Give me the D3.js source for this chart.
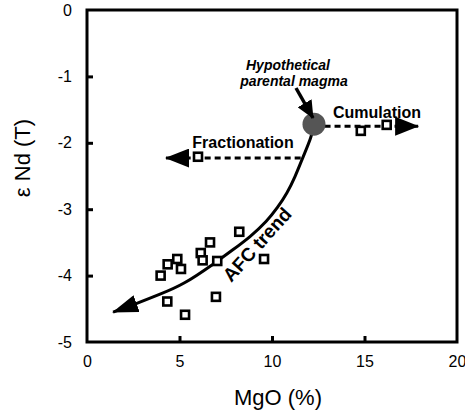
<!DOCTYPE html>
<html><head><meta charset="utf-8">
<script src="https://cdn.jsdelivr.net/npm/d3@7"></script>
<style>body{margin:0;background:#fff}svg{display:block}text{font-family:Arial,"Liberation Sans",sans-serif}</style>
</head><body>
<svg id="c" width="465" height="412"></svg>
<script>
const xTicks = [0, 5, 10, 15, 20];
const yTicks = [0, -1, -2, -3, -4, -5];
const samplesMgO = [6.0, 14.8, 16.2, 8.23, 6.65, 6.15, 6.25, 7.04, 9.57, 4.88, 4.36, 5.08, 3.98, 4.34, 6.97, 5.30];
const samplesENd = [-2.21, -1.82, -1.73, -3.34, -3.50, -3.66, -3.77, -3.78, -3.75, -3.75, -3.83, -3.90, -4.00, -4.39, -4.32, -4.59];
const parental = [12.27, -1.72];
const afcMgO = [12.27, 12.14, 11.68, 11.24, 10.81, 10.32, 9.73, 8.81, 7.89, 6.92, 5.19, 3.95, 2.70, 1.41];
const afcENd = [-1.72, -1.91, -2.21, -2.52, -2.76, -2.97, -3.18, -3.42, -3.61, -3.81, -4.14, -4.28, -4.42, -4.55];
const fractionation = {from: 11.55, to: 4.27, eNd: -2.23};
const cumulation = {from: 12.3, to: 17.9, eNd: -1.75};

const svg = d3.select("#c");
const x = d3.scaleLinear().domain([0, 20]).range([87, 457]);
const y = d3.scaleLinear().domain([-5, 0]).range([342, 10]);

const defs = svg.append("defs");
function marker(id, len, wid) {
  defs.append("marker").attr("id", id).attr("markerUnits", "userSpaceOnUse")
    .attr("viewBox", `0 ${-wid/2} ${len} ${wid}`).attr("refX", len - 1).attr("refY", 0)
    .attr("markerWidth", len).attr("markerHeight", wid).attr("orient", "auto")
    .append("path").attr("d", `M0,${-wid/2}L${len},0L0,${wid/2}Z`).attr("fill", "#000");
}
marker("ahBig", 26, 18);
marker("ahMid", 24, 19);
marker("ahSmall", 18, 16);

// frame
svg.append("rect").attr("x", x(0)).attr("y", y(0)).attr("width", x(20) - x(0)).attr("height", y(-5) - y(0))
  .attr("fill", "none").attr("stroke", "#000").attr("stroke-width", 3);

const fmt = d => String(d);
const xAxis = d3.axisBottom(x).tickValues(xTicks).tickSize(-6).tickPadding(14).tickFormat(fmt);
const gx = svg.append("g").attr("transform", `translate(0,${y(-5)})`).call(xAxis);
gx.select(".domain").remove();
gx.selectAll(".tick line").attr("stroke-width", 3);
gx.selectAll(".tick text").attr("font-size", 16).attr("font-family", "Arial, 'Liberation Sans', sans-serif");
gx.selectAll(".tick").filter(d => d === 0 || d === 20).select("line").remove();

const yAxis = d3.axisLeft(y).tickValues(yTicks).tickSize(-6).tickPadding(15).tickFormat(fmt);
const gy = svg.append("g").attr("transform", `translate(${x(0)},0)`).call(yAxis);
gy.select(".domain").remove();
gy.selectAll(".tick line").attr("stroke-width", 3);
gy.selectAll(".tick text").attr("font-size", 16).attr("font-family", "Arial, 'Liberation Sans', sans-serif");
gy.selectAll(".tick").filter(d => d === 0 || d === -5).select("line").remove();

// axis titles
svg.append("text").attr("x", 278).attr("y", 405).attr("text-anchor", "middle").attr("font-size", 22).text("MgO (%)");
svg.append("text").attr("transform", "translate(30,158) rotate(-90)").attr("text-anchor", "middle")
  .attr("font-size", 22).text("ε Nd (T)");

// AFC curve
const afcPts = afcMgO.map((m, i) => [x(m), y(afcENd[i])]);
svg.append("path").attr("d", d3.line().curve(d3.curveBasis)(afcPts))
  .attr("fill", "none").attr("stroke", "#000").attr("stroke-width", 3).attr("marker-end", "url(#ahBig)");

// dashed arrows
svg.append("line").attr("x1", x(fractionation.from)).attr("x2", x(fractionation.to))
  .attr("y1", y(fractionation.eNd)).attr("y2", y(fractionation.eNd))
  .attr("stroke", "#000").attr("stroke-width", 3).attr("stroke-dasharray", "6,4").attr("marker-end", "url(#ahMid)");
svg.append("line").attr("x1", x(cumulation.from)).attr("x2", x(cumulation.to))
  .attr("y1", y(cumulation.eNd)).attr("y2", y(cumulation.eNd))
  .attr("stroke", "#000").attr("stroke-width", 3).attr("stroke-dasharray", "6,4").attr("marker-end", "url(#ahMid)");

// parental magma
svg.append("circle").attr("cx", x(parental[0])).attr("cy", y(parental[1])).attr("r", 11.5).attr("fill", "#555");

// hypothetical arrow
svg.append("line").attr("x1", 296).attr("y1", 88).attr("x2", 313).attr("y2", 118)
  .attr("stroke", "#000").attr("stroke-width", 3.5).attr("marker-end", "url(#ahSmall)");

// samples
svg.append("g").selectAll("rect").data(samplesMgO).join("rect")
  .attr("x", (d) => x(d) - 4).attr("y", (d, i) => y(samplesENd[i]) - 4)
  .attr("width", 8).attr("height", 8).attr("fill", "#fff").attr("stroke", "#000").attr("stroke-width", 2.6);

// labels
svg.append("text").attr("x", 288).attr("y", 70).attr("text-anchor", "middle").attr("font-size", 14)
  .attr("font-weight", "bold").attr("font-style", "italic").text("Hypothetical");
svg.append("text").attr("x", 294).attr("y", 86).attr("text-anchor", "middle").attr("font-size", 14)
  .attr("font-weight", "bold").attr("font-style", "italic").text("parental magma");
svg.append("text").attr("x", 377).attr("y", 118).attr("text-anchor", "middle").attr("font-size", 16)
  .attr("font-weight", "bold").text("Cumulation");
svg.append("text").attr("x", 243).attr("y", 148).attr("text-anchor", "middle").attr("font-size", 16)
  .attr("font-weight", "bold").text("Fractionation");
svg.append("text").attr("transform", "translate(262,249) rotate(-48)").attr("text-anchor", "middle")
  .attr("font-size", 19).attr("font-weight", "bold").text("AFC trend");
</script>
</body></html>
